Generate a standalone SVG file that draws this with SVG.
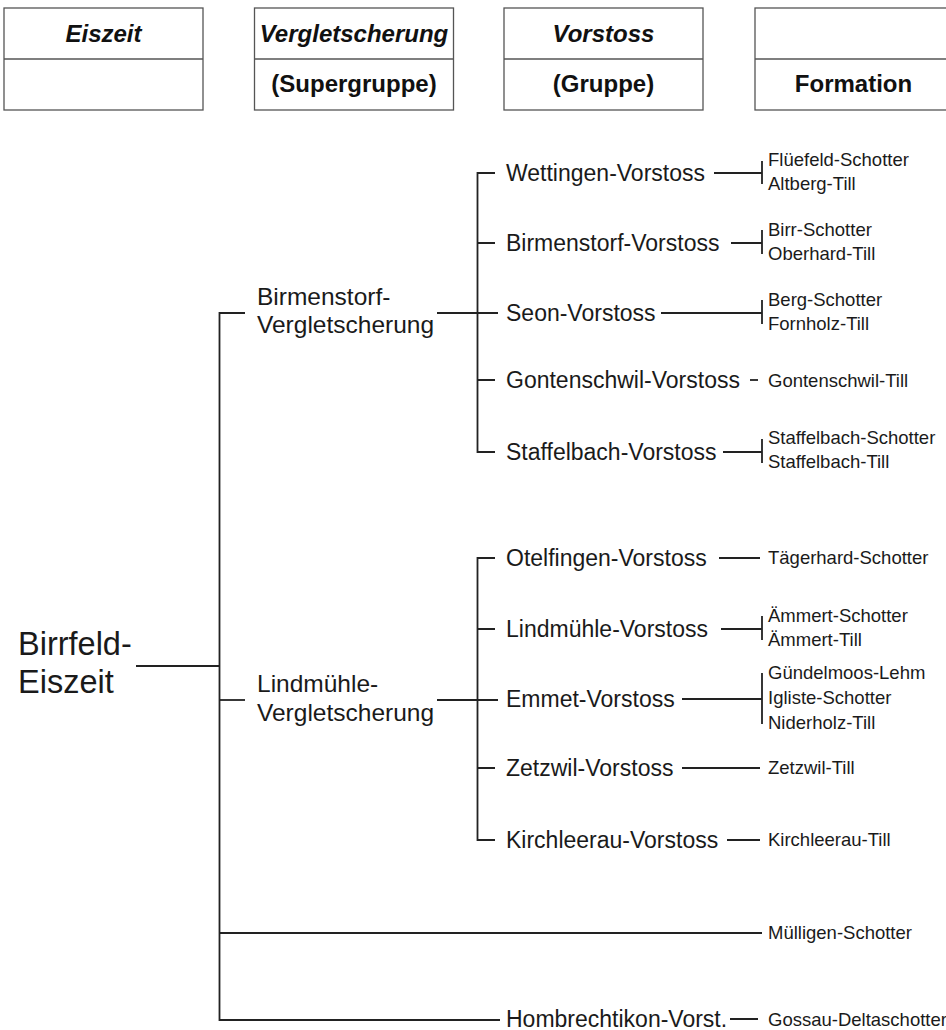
<svg xmlns="http://www.w3.org/2000/svg" width="946" height="1030" viewBox="0 0 946 1030">
<style>
.box{fill:none;stroke:#555;stroke-width:1.3}
.hd{font-family:"Liberation Sans",Arial,sans-serif;font-size:24px;font-weight:bold;fill:#111;text-anchor:middle}
.it{font-style:italic}
.big{font-family:"Liberation Sans",Arial,sans-serif;font-size:32.5px;fill:#1a1a1a}
.sg{font-family:"Liberation Sans",Arial,sans-serif;font-size:24.5px;fill:#1a1a1a}
.vs{font-family:"Liberation Sans",Arial,sans-serif;font-size:23px;fill:#1a1a1a}
.fm{font-family:"Liberation Sans",Arial,sans-serif;font-size:18.5px;fill:#1a1a1a}
.ln{fill:none;stroke:#222;stroke-width:1.8}
</style>
<rect width="946" height="1030" fill="#ffffff"/>
<g id="header">
  <g id="h-eiszeit">
    <rect class="box" x="4" y="8" width="199" height="102"/>
    <line class="box" x1="4" y1="59" x2="203" y2="59"/>
    <text class="hd it" x="103.5" y="42">Eiszeit</text>
  </g>
  <g id="h-vergletscherung">
    <rect class="box" x="254.5" y="8" width="199" height="102"/>
    <line class="box" x1="254.5" y1="59" x2="453.5" y2="59"/>
    <text class="hd it" x="354" y="42">Vergletscherung</text>
    <text class="hd" x="354" y="92">(Supergruppe)</text>
  </g>
  <g id="h-vorstoss">
    <rect class="box" x="504" y="8" width="199" height="102"/>
    <line class="box" x1="504" y1="59" x2="703" y2="59"/>
    <text class="hd it" x="603.5" y="42">Vorstoss</text>
    <text class="hd" x="603.5" y="92">(Gruppe)</text>
  </g>
  <g id="h-formation">
    <rect class="box" x="755" y="8" width="199" height="102"/>
    <line class="box" x1="755" y1="59" x2="954" y2="59"/>
    <text class="hd" x="853.5" y="92">Formation</text>
  </g>
</g>
<g id="connectors">
  <path class="ln" d="M136 666H219.5"/>
  <path class="ln" d="M245 313H219.5V1020H500"/>
  <path class="ln" d="M219.5 700H245"/>
  <path class="ln" d="M219.5 933H762"/>
  <path class="ln" d="M437 313H498"/>
  <path class="ln" d="M495 173H477.5V452H495"/>
  <path class="ln" d="M477.5 243H495M477.5 380H495"/>
  <path class="ln" d="M437 700H498"/>
  <path class="ln" d="M495 558H477.5V840H495"/>
  <path class="ln" d="M477.5 629H495M477.5 768H495"/>
  <path class="ln" d="M714 173H762M762 161V184"/>
  <path class="ln" d="M731 243H762M762 230V254"/>
  <path class="ln" d="M661 313H762M762 300V324"/>
  <path class="ln" d="M750 380H758"/>
  <path class="ln" d="M723 452H762M762 439V463"/>
  <path class="ln" d="M719 558H760"/>
  <path class="ln" d="M721 629H762M762 616V640"/>
  <path class="ln" d="M682 699H762M762 673V724"/>
  <path class="ln" d="M682 768H760"/>
  <path class="ln" d="M727 840H760"/>
  <rect x="730" y="1018" width="28" height="2" fill="#222"/>
</g>
<g id="n-birrfeld"><text class="big" x="18" y="655">Birrfeld-</text><text class="big" x="18" y="692.5">Eiszeit</text></g>
<g id="n-birmenstorf-vg"><text class="sg" x="257" y="305">Birmenstorf-</text><text class="sg" x="257" y="333">Vergletscherung</text></g>
<g id="n-lindmuehle-vg"><text class="sg" x="257" y="692">Lindmühle-</text><text class="sg" x="257" y="721">Vergletscherung</text></g>
<g id="n-wettingen"><text class="vs" x="506" y="181">Wettingen-Vorstoss</text></g>
<g id="n-birmenstorf"><text class="vs" x="506" y="251">Birmenstorf-Vorstoss</text></g>
<g id="n-seon"><text class="vs" x="506" y="321">Seon-Vorstoss</text></g>
<g id="n-gontenschwil"><text class="vs" x="506" y="388">Gontenschwil-Vorstoss</text></g>
<g id="n-staffelbach"><text class="vs" x="506" y="460">Staffelbach-Vorstoss</text></g>
<g id="n-otelfingen"><text class="vs" x="506" y="566">Otelfingen-Vorstoss</text></g>
<g id="n-lindmuehle"><text class="vs" x="506" y="637">Lindmühle-Vorstoss</text></g>
<g id="n-emmet"><text class="vs" x="506" y="707">Emmet-Vorstoss</text></g>
<g id="n-zetzwil"><text class="vs" x="506" y="776">Zetzwil-Vorstoss</text></g>
<g id="n-kirchleerau"><text class="vs" x="506" y="848">Kirchleerau-Vorstoss</text></g>
<g id="n-hombrechtikon"><text class="vs" x="506" y="1027">Hombrechtikon-Vorst.</text></g>
<g id="f-wettingen"><text class="fm" x="768" y="166">Flüefeld-Schotter</text><text class="fm" x="768" y="190">Altberg-Till</text></g>
<g id="f-birmenstorf"><text class="fm" x="768" y="236">Birr-Schotter</text><text class="fm" x="768" y="260">Oberhard-Till</text></g>
<g id="f-seon"><text class="fm" x="768" y="306">Berg-Schotter</text><text class="fm" x="768" y="330">Fornholz-Till</text></g>
<g id="f-gontenschwil"><text class="fm" x="768" y="387">Gontenschwil-Till</text></g>
<g id="f-staffelbach"><text class="fm" x="768" y="444">Staffelbach-Schotter</text><text class="fm" x="768" y="468">Staffelbach-Till</text></g>
<g id="f-otelfingen"><text class="fm" x="768" y="564">Tägerhard-Schotter</text></g>
<g id="f-lindmuehle"><text class="fm" x="768" y="622">Ämmert-Schotter</text><text class="fm" x="768" y="646">Ämmert-Till</text></g>
<g id="f-emmet"><text class="fm" x="768" y="679">Gündelmoos-Lehm</text><text class="fm" x="768" y="704">Igliste-Schotter</text><text class="fm" x="768" y="729">Niderholz-Till</text></g>
<g id="f-zetzwil"><text class="fm" x="768" y="774">Zetzwil-Till</text></g>
<g id="f-kirchleerau"><text class="fm" x="768" y="846">Kirchleerau-Till</text></g>
<g id="f-muelligen"><text class="fm" x="768" y="939">Mülligen-Schotter</text></g>
<g id="f-gossau"><text class="fm" x="768" y="1026">Gossau-Deltaschotter</text></g>
</svg>
